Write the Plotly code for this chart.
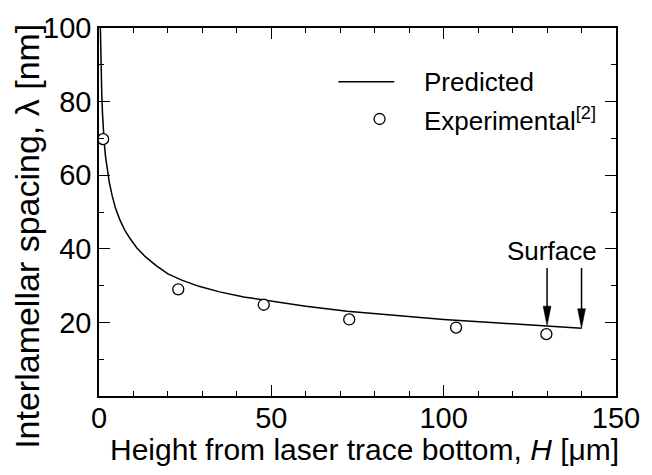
import plotly.graph_objects as go

# Predicted curve
pred_H = [0.4, 0.5, 0.65, 0.8, 1.0, 1.2, 1.5, 1.9, 2.4, 3.0, 3.8, 4.8, 6.0, 7.5, 9.0, 11.0,
          13.5, 16.5, 20.0, 24.0, 29.0, 35.0, 42.0, 50.0, 60.0, 72.0, 85.0, 100.0, 115.0, 130.0, 140.0]
pred_L = [100.0, 94.0, 87.0, 82.0, 77.0, 73.0, 69.0, 65.0, 61.5, 58.0, 54.5, 51.0, 48.0, 45.0, 42.8, 40.2,
          37.8, 35.5, 33.2, 31.5, 29.8, 28.3, 26.9, 25.7, 24.4, 23.0, 21.9, 20.8, 19.9, 19.1, 18.4]

# Experimental points
exp_H = [1.2, 23.0, 47.8, 72.6, 103.6, 129.8]
exp_L = [69.8, 29.0, 24.8, 20.8, 18.6, 16.8]

# Surface arrows
surf_H = [130.0, 140.0]
surf_tip = [19.1, 18.4]
surf_tail = [34.8, 34.8]
surf_label = "Surface"
surf_label_pos = (131.5, 39.4)

x_ticks = [0, 50, 100, 150]
y_ticks = [20, 40, 60, 80, 100]

legend_names = ["Predicted", "Experimental<sup>[2]</sup>"]
x_title = "Height from laser trace bottom, <i>H</i> [μm]"
y_title = "Interlamellar spacing, λ [nm]"

FONT = "Liberation Sans, Arial, sans-serif"

W, H = 652, 475
ml, mr, mt, mb = 99, 26, 20, 79
PW, PH = W - ml - mr, H - mt - mb


def px2paper_x(px):
    return (px - ml) / PW


def px2paper_y(py):
    return (H - mb - py) / PH


fig = go.Figure()
fig.add_trace(go.Scatter(x=pred_H, y=pred_L, mode="lines", name=legend_names[0],
                         line=dict(color="black", width=1.5), showlegend=False))
fig.add_trace(go.Scatter(x=exp_H, y=exp_L, mode="markers", name=legend_names[1],
                         marker=dict(symbol="circle", size=11, color="white",
                                     line=dict(color="black", width=1.3)), showlegend=False))

# arrows as shapes
pxx = PW / 150.0
pxy = PH / 100.0
head_len = 20 / pxy
head_half = 4 / pxx
for h, tip, tail in zip(surf_H, surf_tip, surf_tail):
    fig.add_shape(type="line", xref="x", yref="y", x0=h, x1=h, y0=tail, y1=tip + head_len * 0.9,
                  line=dict(color="black", width=1.5))
    fig.add_shape(type="path", xref="x", yref="y",
                  path=f"M{h},{tip} L{h - head_half},{tip + head_len} L{h + head_half},{tip + head_len} Z",
                  fillcolor="black", line=dict(color="black", width=0.5))

fig.add_annotation(x=surf_label_pos[0], y=surf_label_pos[1], xref="x", yref="y", text=surf_label,
                   showarrow=False, font=dict(family=FONT, size=26, color="black"))

# manual legend
fig.add_shape(type="line", xref="paper", yref="paper",
              x0=px2paper_x(343), x1=px2paper_x(400), y0=px2paper_y(75), y1=px2paper_y(75),
              line=dict(color="black", width=1.5))
fig.add_shape(type="circle", xref="paper", yref="paper", xsizemode="pixel", ysizemode="pixel",
              xanchor=px2paper_x(385), yanchor=px2paper_y(113), x0=-5.5, x1=5.5, y0=-5.5, y1=5.5,
              fillcolor="white", line=dict(color="black", width=1.3))
for name, py in zip(legend_names, [75, 113]):
    fig.add_annotation(x=px2paper_x(428), y=px2paper_y(py), xref="paper", yref="paper",
                       text=name, showarrow=False, xanchor="left", yanchor="middle",
                       font=dict(family=FONT, size=26, color="black"))

# axis titles as annotations (positioned like the reference)
fig.add_annotation(x=px2paper_x(370), y=px2paper_y(451), xref="paper", yref="paper",
                   text=x_title, showarrow=False, xanchor="center", yanchor="middle",
                   font=dict(family=FONT, size=30, color="black"))
fig.add_annotation(x=px2paper_x(26), y=px2paper_y(233), xref="paper", yref="paper",
                   text=y_title, showarrow=False, textangle=-90, xanchor="center", yanchor="middle",
                   font=dict(family=FONT, size=34, color="black"))

axis_common = dict(showline=True, linecolor="black", linewidth=1.6, mirror="allticks",
                   ticks="inside", ticklen=11, tickwidth=1.3, tickcolor="black",
                   showgrid=False, zeroline=False,
                   tickfont=dict(family=FONT, size=29, color="black"))

fig.update_xaxes(range=[0, 150], tickvals=x_ticks,
                 minor=dict(dtick=10, ticks="inside", ticklen=5, tickwidth=1.3, tickcolor="black", showgrid=False),
                 ticklabelstandoff=-5,
                 **axis_common)
fig.update_yaxes(range=[0, 100], tickvals=y_ticks,
                 minor=dict(dtick=10, ticks="inside", ticklen=5, tickwidth=1.3, tickcolor="black", showgrid=False),
                 **axis_common)

fig.update_layout(width=W, height=H, margin=dict(l=ml, r=mr, t=mt, b=mb),
                  paper_bgcolor="white", plot_bgcolor="white",
                  font=dict(family=FONT, color="black"), showlegend=False)

fig.write_html("out.html")
